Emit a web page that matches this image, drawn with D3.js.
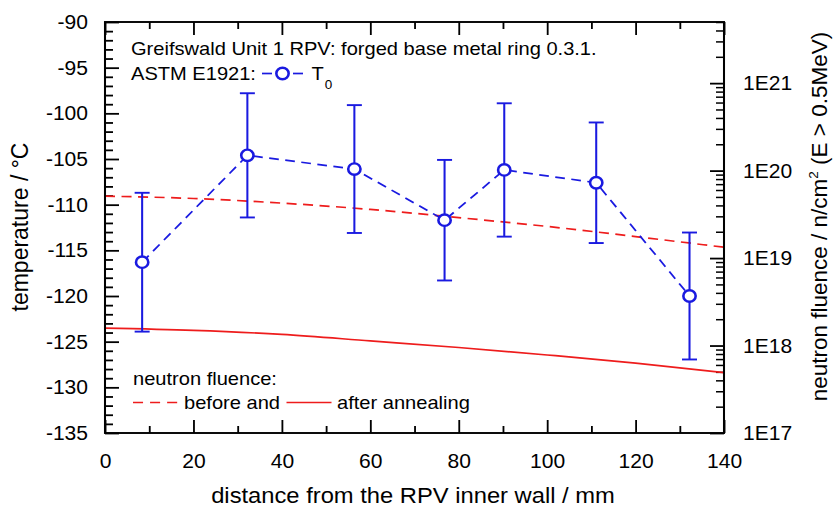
<!DOCTYPE html>
<html>
<head>
<meta charset="utf-8">
<script src="https://cdn.jsdelivr.net/npm/d3@7"></script>
<style>
  html, body { margin: 0; padding: 0; background: #fff; }
  svg { display: block; font-family: "Liberation Sans", Arial, Helvetica, sans-serif; }
</style>
</head>
<body>
<svg id="chart" width="833" height="508"></svg>
<script>
// T0 measurements through the ring thickness
const distance = [8.4, 32.2, 56.4, 76.8, 90.3, 111.1, 132.2];
const t0 = [-116.3, -104.6, -106.1, -111.7, -106.2, -107.6, -120.0];
const t0Err = [7.6, 6.8, 7.0, 6.6, 7.3, 6.6, 6.95];

// neutron fluence profiles (n/cm², E > 0.5 MeV)
const fluenceDepth = [0, 20, 40, 60, 80, 100, 120, 140];
const fluenceBefore = [5.1e19, 4.8e19, 4.25e19, 3.6e19, 2.9e19, 2.3e19, 1.76e19, 1.33e19];
const fluenceAfter = [1.58e18, 1.49e18, 1.34e18, 1.13e18, 9.5e17, 7.8e17, 6.3e17, 4.9e17];

// axis ticks
const xTicks = [0, 20, 40, 60, 80, 100, 120, 140];
const tempTicks = [-135, -130, -125, -120, -115, -110, -105, -100, -95, -90];
const fluenceTicks = [1e17, 1e18, 1e19, 1e20, 1e21];
const fluenceTickLabels = ["1E17", "1E18", "1E19", "1E20", "1E21"];

(function draw() {
  const SX = 1.08;              // horizontal stretch of the drawing
  const pL = 105 / SX, pR = 724 / SX, pT = 22, pB = 433;
  const BLUE = "#1a1ae0", RED = "#ee1c1c";

  const svg = d3.select("#chart");
  const g = svg.append("g").attr("transform", `scale(${SX},1)`);

  const x = d3.scaleLinear().domain([0, 140]).range([pL, pR]);
  const yT = d3.scaleLinear().domain([-135, -90]).range([pB, pT]);
  const yF = d3.scaleLog().domain([1e17, 5e21]).range([pB, pT]);

  // minor tick values
  const xMinor = d3.range(10, 140, 20);
  const tempMinor = d3.range(-135, -89, 1).filter(v => v % 5 !== 0);
  const fluenceMinor = [];
  for (let e = 17; e <= 21; e++) {
    for (let k = 2; k <= 9; k++) {
      const v = k * Math.pow(10, e);
      if (v <= 5e21) fluenceMinor.push(v);
    }
  }

  function tidy(sel, width) {
    sel.select(".domain").remove();
    sel.selectAll(".tick line").attr("stroke", "#000").attr("stroke-width", width);
  }
  function labelStyle(sel) {
    sel.attr("font-size", 19.5).attr("fill", "#000").attr("font-family", null);
  }
  const plain = d => String(d);

  // bottom axis
  g.append("g").attr("transform", `translate(0,${pB})`)
    .call(d3.axisBottom(x).tickValues(xTicks).tickSize(-13).tickFormat(plain))
    .call(s => tidy(s, 1.7))
    .call(s => s.selectAll("text").attr("y", 35).attr("dy", 0).call(labelStyle));
  g.append("g").attr("transform", `translate(0,${pB})`)
    .call(d3.axisBottom(x).tickValues(xMinor).tickSize(-7).tickFormat(() => ""))
    .call(s => tidy(s, 1.7));

  // top axis (ticks only)
  g.append("g").attr("transform", `translate(0,${pT})`)
    .call(d3.axisTop(x).tickValues(xTicks).tickSize(-13).tickFormat(() => ""))
    .call(s => tidy(s, 1.7));
  g.append("g").attr("transform", `translate(0,${pT})`)
    .call(d3.axisTop(x).tickValues(xMinor).tickSize(-7).tickFormat(() => ""))
    .call(s => tidy(s, 1.7));

  // left temperature axis
  g.append("g").attr("transform", `translate(${pL},0)`)
    .call(d3.axisLeft(yT).tickValues(tempTicks).tickSize(-14 / SX).tickFormat(plain))
    .call(s => tidy(s, 1.8))
    .call(s => s.selectAll("text").attr("x", -17 / SX).attr("dy", 6.5).call(labelStyle));
  g.append("g").attr("transform", `translate(${pL},0)`)
    .call(d3.axisLeft(yT).tickValues(tempMinor).tickSize(-8 / SX).tickFormat(() => ""))
    .call(s => tidy(s, 1.8));

  // right fluence axis (log)
  g.append("g").attr("transform", `translate(${pR},0)`)
    .call(d3.axisRight(yF).tickValues(fluenceTicks).tickSize(-14 / SX)
      .tickFormat((d, i) => fluenceTickLabels[i]))
    .call(s => tidy(s, 1.8))
    .call(s => s.selectAll("text").attr("x", 19 / SX).attr("dy", 6.5).call(labelStyle));
  g.append("g").attr("transform", `translate(${pR},0)`)
    .call(d3.axisRight(yF).tickValues(fluenceMinor).tickSize(-8 / SX).tickFormat(() => ""))
    .call(s => tidy(s, 1.5));

  // fluence curves
  const fluenceLine = d3.line()
    .x((d, i) => x(fluenceDepth[i]))
    .y(d => yF(d))
    .curve(d3.curveMonotoneX);

  g.append("path").datum(fluenceBefore)
    .attr("d", fluenceLine).attr("fill", "none")
    .attr("stroke", RED).attr("stroke-width", 1.7).attr("stroke-dasharray", "9.3,6");
  g.append("path").datum(fluenceAfter)
    .attr("d", fluenceLine).attr("fill", "none")
    .attr("stroke", RED).attr("stroke-width", 1.7);

  // T0 series
  const pts = distance.map((d, i) => ({ d, t: t0[i], e: t0Err[i] }));

  g.append("path").datum(pts)
    .attr("d", d3.line().x(p => x(p.d)).y(p => yT(p.t)))
    .attr("fill", "none").attr("stroke", BLUE).attr("stroke-width", 1.7)
    .attr("stroke-dasharray", "9,6");

  const bars = g.append("g").attr("stroke", BLUE).attr("stroke-width", 1.9);
  const capHalf = 7.5 / SX;
  pts.forEach(p => {
    bars.append("line").attr("x1", x(p.d)).attr("x2", x(p.d))
      .attr("y1", yT(p.t - p.e)).attr("y2", yT(p.t + p.e));
    [p.t - p.e, p.t + p.e].forEach(v => {
      bars.append("line").attr("x1", x(p.d) - capHalf).attr("x2", x(p.d) + capHalf)
        .attr("y1", yT(v)).attr("y2", yT(v));
    });
  });

  g.append("g").selectAll("circle").data(pts).join("circle")
    .attr("cx", p => x(p.d)).attr("cy", p => yT(p.t)).attr("r", 5.7)
    .attr("fill", "#fff").attr("stroke", BLUE).attr("stroke-width", 2.4);

  // frame
  g.append("rect").attr("x", pL).attr("y", pT)
    .attr("width", pR - pL).attr("height", pB - pT)
    .attr("fill", "none").attr("stroke", "#000").attr("stroke-width", 1.9);

  // legends
  const legFont = 18.6;
  g.append("text").attr("x", 131 / SX).attr("y", 55).attr("font-size", legFont)
    .text("Greifswald Unit 1 RPV: forged base metal ring 0.3.1.");
  g.append("text").attr("x", 131 / SX).attr("y", 80).attr("font-size", legFont)
    .text("ASTM E1921:");
  const lg = g.append("g").attr("stroke", BLUE).attr("stroke-width", 1.7);
  lg.append("line").attr("x1", 262 / SX).attr("x2", 272 / SX).attr("y1", 73.5).attr("y2", 73.5);
  lg.append("line").attr("x1", 293 / SX).attr("x2", 303 / SX).attr("y1", 73.5).attr("y2", 73.5);
  g.append("circle").attr("cx", 282.5 / SX).attr("cy", 73.5).attr("r", 5.7)
    .attr("fill", "#fff").attr("stroke", BLUE).attr("stroke-width", 2.4);
  const tLab = g.append("text").attr("x", 311.5 / SX).attr("y", 80).attr("font-size", legFont);
  tLab.append("tspan").text("T");
  tLab.append("tspan").attr("dy", 9).attr("dx", 1).attr("font-size", 12.5).text("0");

  g.append("text").attr("x", 133 / SX).attr("y", 385).attr("font-size", legFont)
    .text("neutron fluence:");
  g.append("line").attr("x1", 133 / SX).attr("x2", 178 / SX).attr("y1", 402.5).attr("y2", 402.5)
    .attr("stroke", RED).attr("stroke-width", 1.7).attr("stroke-dasharray", "9.3,6.5");
  g.append("text").attr("x", 184 / SX).attr("y", 409).attr("font-size", legFont)
    .text("before and");
  g.append("line").attr("x1", 286.5 / SX).attr("x2", 331.5 / SX).attr("y1", 402.5).attr("y2", 402.5)
    .attr("stroke", RED).attr("stroke-width", 1.7);
  g.append("text").attr("x", 337 / SX).attr("y", 409).attr("font-size", legFont)
    .text("after annealing");

  // axis titles
  g.append("text").attr("x", 413 / SX).attr("y", 503).attr("text-anchor", "middle")
    .attr("font-size", 22).text("distance from the RPV inner wall / mm");

  svg.append("text").attr("transform", "translate(27.5,227) rotate(-90)")
    .attr("text-anchor", "middle").attr("font-size", 23)
    .text("temperature / °C");

  const rt = svg.append("text").attr("transform", "translate(827,216.5) rotate(-90)")
    .attr("text-anchor", "middle").attr("font-size", 22.5);
  rt.append("tspan").text("neutron fluence / n/cm");
  rt.append("tspan").attr("dy", -9).attr("font-size", 13.5).text("2");
  rt.append("tspan").attr("dy", 9).text(" (E > 0.5MeV)");
})();
</script>
</body>
</html>
